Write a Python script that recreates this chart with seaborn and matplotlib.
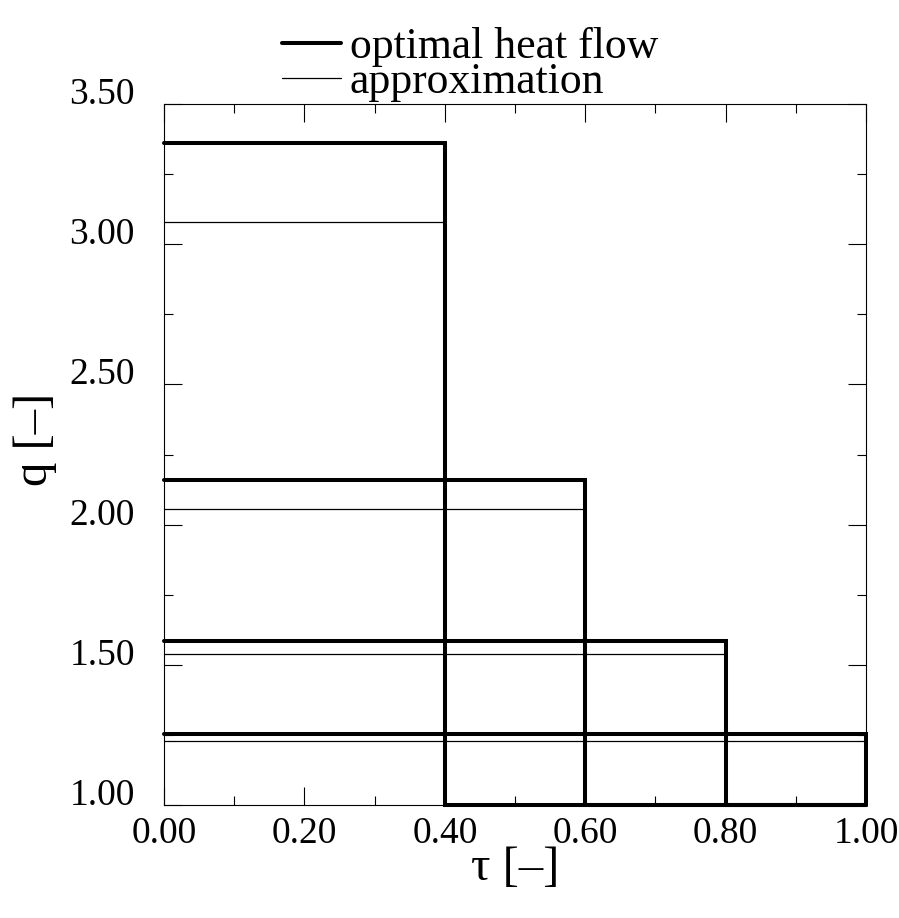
import numpy as np
import pandas as pd
import seaborn as sns
import matplotlib
matplotlib.use("Agg")
import matplotlib.pyplot as plt
from matplotlib.lines import Line2D
from matplotlib.ticker import MultipleLocator, FormatStrFormatter

# Switching times and heat-flow levels for the four cases
switch_tau = [0.40, 0.60, 0.80, 1.00]
q_optimal = [3.36, 2.16, 1.585, 1.253]
q_approx = [3.08, 2.054, 1.54, 1.23]
q_floor = 1.0
tau_end = 1.0

sns.set_theme(style="white")
plt.rcParams["font.family"] = ["Liberation Serif", "DejaVu Serif"]
plt.rcParams.update({"text.color": "black", "axes.labelcolor": "black",
                     "xtick.color": "black", "ytick.color": "black"})

# Step profiles: constant q until the switch, then drop to the floor
rows = []
for k, (t, qo, qa) in enumerate(zip(switch_tau, q_optimal, q_approx)):
    for order, (x, y) in enumerate([(0.0, qo), (t, qo), (t, q_floor), (tau_end, q_floor)]):
        rows.append({"case": k, "order": order, "tau": x, "q": y, "kind": "optimal"})
    for order, (x, y) in enumerate([(0.0, qa), (t, qa)]):
        rows.append({"case": k, "order": order, "tau": x, "q": y, "kind": "approx"})
df = pd.DataFrame(rows)

fig = plt.figure(figsize=(8.99, 9.18), dpi=100)
ax = fig.add_axes([0.1824, 0.1231, 0.7810, 0.7636])

sns.lineplot(data=df[df.kind == "approx"], x="tau", y="q", units="case",
             estimator=None, sort=False, color="black", linewidth=0.9, ax=ax)
sns.lineplot(data=df[df.kind == "optimal"], x="tau", y="q", units="case",
             estimator=None, sort=False, color="black", linewidth=2.9, ax=ax)
for ln in ax.lines:
    ln.set_clip_on(False)
    ln.set_solid_joinstyle("miter")

ax.set_xlim(0.0, 1.0)
ax.set_ylim(1.0, 3.5)
ax.xaxis.set_major_locator(MultipleLocator(0.2))
ax.xaxis.set_minor_locator(MultipleLocator(0.1))
ax.yaxis.set_major_locator(MultipleLocator(0.5))
ax.yaxis.set_minor_locator(MultipleLocator(0.25))
ax.xaxis.set_major_formatter(FormatStrFormatter("%.2f"))
ax.yaxis.set_major_formatter(FormatStrFormatter("%.2f"))

ax.tick_params(which="both", direction="in", top=True, right=True,
               bottom=True, left=True, color="black", width=0.8)
ax.tick_params(which="major", length=13, labelsize=27)
ax.tick_params(which="minor", length=6.5)
ax.tick_params(axis="x", which="major", pad=8)
ax.tick_params(axis="y", which="major", pad=21)
for lab in ax.get_yticklabels():
    lab.set_va("baseline")

for sp in ax.spines.values():
    sp.set_color("black")
    sp.set_linewidth(0.8)

ax.set_xlabel("τ [–]", fontsize=35, labelpad=-3)
ax.set_ylabel("q [–]", fontsize=35)
ax.yaxis.set_label_coords(-0.152, 0.521)

handles = [Line2D([], [], color="black", linewidth=2.9),
           Line2D([], [], color="black", linewidth=0.9)]
leg = ax.legend(handles, ["optimal heat flow", "approximation"],
                loc="lower left", bbox_to_anchor=(0.168, 1.003),
                frameon=False, fontsize=31.5, handlelength=1.35,
                handletextpad=0.2, labelspacing=-0.12, borderpad=0.0,
                borderaxespad=0.0)

fig.savefig("out.png", dpi=100, facecolor="white")
